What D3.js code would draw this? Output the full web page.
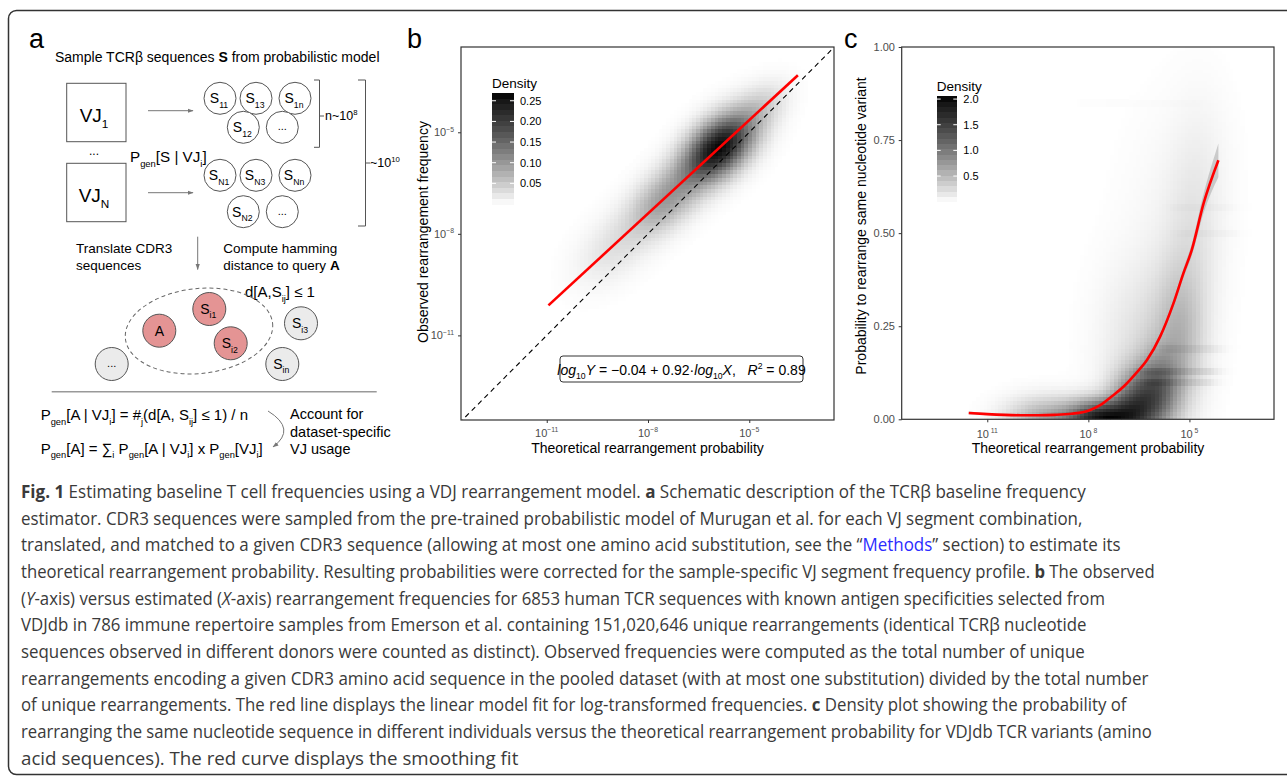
<!DOCTYPE html>
<html>
<head>
<meta charset="utf-8">
<script src="https://cdn.jsdelivr.net/npm/d3@7"></script>
<style>
  body { margin: 0; background: #fff; }
  svg { display: block; }
  text { font-family: "Liberation Sans", Arial, Helvetica, sans-serif; white-space: pre; }
  .cap text { font-family: "Open Sans", "Noto Sans", sans-serif; }
</style>
</head>
<body>
<svg id="fig" width="1287" height="776"></svg>
<script>
// ---- panel b data (log10 units) ----
const bTicks = [-11, -8, -5];
const bDomainX = [-13.54, -2.49];
const bDomainY = [-13.5, -2.48];
const bFitCoef = [-0.04, 0.92];          // intercept, slope
const bFitRange = [-10.95, -3.56];
// density blobs: [cx, cy, sdAlong, sdAcross, weight]
const bBlobs = [
  [-5.9, -5.45, 0.85, 0.5, 1.0],
  [-4.6, -4.2, 0.6, 0.4, 0.12],
  [-7.5, -7.0, 0.85, 0.5, 0.34],
  [-9.0, -8.4, 0.9, 0.55, 0.1]
];
const bLegendTicks = [0.05, 0.10, 0.15, 0.20, 0.25];
const bLegendMax = 0.27;

// ---- panel c data ----
const cTicks = [-11, -8, -5];
const cYTicks = [0, 0.25, 0.5, 0.75, 1];
const cSmoothX = [-11.55, -11, -10.5, -10, -9.5, -9, -8.5, -8, -7.65, -7.3, -6.95, -6.6, -6.26, -5.87, -5.48, -5.18, -4.93, -4.58, -4.14];
const cSmoothY = [0.017, 0.014, 0.012, 0.011, 0.011, 0.012, 0.015, 0.023, 0.038, 0.062, 0.088, 0.122, 0.159, 0.222, 0.31, 0.392, 0.455, 0.58, 0.696];
const cSmoothSe = [0.004, 0.003, 0.003, 0.003, 0.003, 0.003, 0.003, 0.003, 0.003, 0.004, 0.004, 0.005, 0.006, 0.007, 0.009, 0.012, 0.016, 0.026, 0.045];
// [cx, cy, sx, sy, weight]
const cBlobs = [
  [-7.6, 0.0, 0.7, 0.035, 1.0],
  [-9.3, 0.0, 0.8, 0.04, 0.35],
  [-6.6, 0.04, 0.5, 0.06, 0.6],
  [-5.9, 0.08, 0.45, 0.07, 0.45],
  [-5.3, 0.22, 0.5, 0.13, 0.22],
  [-4.9, 0.45, 0.55, 0.18, 0.08],
  [-6.3, 0.2, 0.9, 0.15, 0.12],
  [-5.5, 0.55, 1.0, 0.2, 0.03],
  [-4.6, 0.7, 0.6, 0.15, 0.03]
];
// horizontal streaks: [y, xFrom, xTo, weight]
const cStreaks = [
  [0.13, -6.2, -4.5, 0.12],
  [0.10, -6.0, -4.6, 0.1],
  [0.19, -5.5, -4.4, 0.07],
  [0.50, -5.0, -3.9, 0.03],
  [0.57, -5.2, -4.0, 0.025],
  [0.85, -8.0, -5.0, 0.012]
];
const cLegendTicks = [0.5, 1.0, 1.5, 2.0];
const cLegendMax = 2.06;

const captionLines = [
  "**Fig. 1** Estimating baseline T cell frequencies using a VDJ rearrangement model. **a** Schematic description of the TCRβ baseline frequency",
  "estimator. CDR3 sequences were sampled from the pre-trained probabilistic model of Murugan et al. for each VJ segment combination,",
  "translated, and matched to a given CDR3 sequence (allowing at most one amino acid substitution, see the “[Methods]” section) to estimate its",
  "theoretical rearrangement probability. Resulting probabilities were corrected for the sample-specific VJ segment frequency profile. **b** The observed",
  "(_Y_-axis) versus estimated (_X_-axis) rearrangement frequencies for 6853 human TCR sequences with known antigen specificities selected from",
  "VDJdb in 786 immune repertoire samples from Emerson et al. containing 151,020,646 unique rearrangements (identical TCRβ nucleotide",
  "sequences observed in different donors were counted as distinct). Observed frequencies were computed as the total number of unique",
  "rearrangements encoding a given CDR3 amino acid sequence in the pooled dataset (with at most one substitution) divided by the total number",
  "of unique rearrangements. The red line displays the linear model fit for log-transformed frequencies. **c** Density plot showing the probability of",
  "rearranging the same nucleotide sequence in different individuals versus the theoretical rearrangement probability for VDJdb TCR variants (amino",
  "acid sequences). The red curve displays the smoothing fit"
];
const captionEnds = [1086.7, 1083.3, 1121, 1155, 1106, 1087.3, 1085.7, 1149, 1127.3, 1152.3, 518.5];

const svg = d3.select("#fig");

// text with sub/superscripts: segs = [[str, flags]] flags: "_" sub, "^" sup, "B" bold, "I" italic, "L" link
function rich(g, x, y, segs, size, opts = {}) {
  const t = g.append("text").attr("x", x).attr("y", y).attr("font-size", size)
    .attr("text-anchor", opts.anchor || "start").attr("fill", opts.fill || "#000");
  let shift = 0;
  segs.forEach(s => {
    const str = typeof s === "string" ? s : s[0];
    const f = typeof s === "string" ? "" : (s[1] || "");
    let target = 0, fs = size;
    if (f.includes("_")) { target = size * 0.32; fs = size * 0.62; }
    if (f.includes("^")) { target = -size * 0.42; fs = size * 0.62; }
    const sp = t.append("tspan").attr("font-size", fs).text(str);
    if (target - shift !== 0) sp.attr("dy", target - shift);
    if (f.includes("B")) sp.attr("font-weight", "bold");
    if (f.includes("I")) sp.attr("font-style", "italic");
    if (f.includes("L")) sp.attr("fill", "#2b2bff");
    shift = target;
  });
  return t;
}

// outer frame
svg.append("rect").attr("x", 8.5).attr("y", 10.5).attr("width", 1300).attr("height", 764)
  .attr("rx", 8).attr("fill", "none").attr("stroke", "#333").attr("stroke-width", 1.5);

// panel letters
[["a", 29], ["b", 407], ["c", 844]].forEach(([l, x]) =>
  svg.append("text").attr("x", x).attr("y", 48).attr("font-size", 27).text(l));

// ================= panel a (schematic) =================
const A = svg.append("g");
const ink = "#555";
const defs = svg.append("defs");
defs.append("marker").attr("id", "arr").attr("viewBox", "0 0 10 10").attr("refX", 9).attr("refY", 5)
  .attr("markerWidth", 6).attr("markerHeight", 6).attr("orient", "auto")
  .append("path").attr("d", "M0,1.5 L10,5 L0,8.5 Z").attr("fill", "#777");

rich(A, 55, 61.5, ["Sample TCRβ sequences ", ["S", "B"], " from probabilistic model"], 14);

[[83.3, "1"], [163.3, "N"]].forEach(([y0, sub]) => {
  A.append("rect").attr("x", 66.7).attr("y", y0).attr("width", 59.3).attr("height", 58.4)
    .attr("fill", "none").attr("stroke", ink);
  rich(A, 94, y0 + 38.5, ["VJ", [sub, "_"]], 19, { anchor: "middle" });
});
A.append("text").attr("x", 94).attr("y", 155).attr("font-size", 12).attr("text-anchor", "middle").text("...");
rich(A, 130, 161.7, ["P", ["gen", "_"], "[S | VJ", ["i", "_"], "]"], 15.2);

[110.7, 192.7].forEach(y => A.append("line").attr("x1", 148).attr("x2", 193).attr("y1", y).attr("y2", y)
  .attr("stroke", "#777").attr("marker-end", "url(#arr)"));

const seqCircles = [
  [220, 98.3, "11"], [256, 98.3, "13"], [295, 98.3, "1n"], [243.3, 127.3, "12"], [282.3, 127.3, null],
  [220, 175.3, "N1"], [256, 175.3, "N3"], [295, 175.3, "Nn"], [243.3, 211.7, "N2"], [282.3, 211.7, null]
];
seqCircles.forEach(([x, y, sub]) => {
  A.append("circle").attr("cx", x).attr("cy", y).attr("r", 16).attr("fill", "#fff").attr("stroke", ink);
  if (sub) rich(A, x - 1, y + 5, ["S", [sub, "_"]], 14, { anchor: "middle" });
  else A.append("text").attr("x", x).attr("y", y + 3).attr("font-size", 11).attr("text-anchor", "middle").text("...");
});

A.append("path").attr("d", "M314,80 H319.5 V147.3 H314 M319.5,116 H324").attr("fill", "none").attr("stroke", ink);
rich(A, 325, 120, ["n~10", ["8", "^"]], 12.5);
A.append("path").attr("d", "M358,80 H365.5 V226 H358 M365.5,163 H370").attr("fill", "none").attr("stroke", ink);
rich(A, 370, 167, ["~10", ["10", "^"]], 12.5);

rich(A, 76, 253, ["Translate CDR3"], 13.5);
rich(A, 76, 270, ["sequences"], 13.5);
A.append("line").attr("x1", 197.7).attr("x2", 197.7).attr("y1", 236.7).attr("y2", 269.5)
  .attr("stroke", "#777").attr("marker-end", "url(#arr)");
rich(A, 223.3, 253, ["Compute hamming"], 13.5);
rich(A, 223.3, 270, ["distance to query ", ["A", "B"]], 13.5);
rich(A, 245, 297, ["d[A,S", ["ij", "_"], "] ≤ 1"], 15);

A.append("ellipse").attr("cx", 199).attr("cy", 331).attr("rx", 74).attr("ry", 42.5)
  .attr("transform", "rotate(-6 199 331)")
  .attr("fill", "none").attr("stroke", "#666").attr("stroke-dasharray", "4,3");

const hitCircles = [
  [159.3, 330.7, "#e49494", "A", null], [209.3, 309, "#e49494", "S", "i1"], [230.7, 343.3, "#e49494", "S", "i2"],
  [301, 323.3, "#ebebeb", "S", "i3"], [282.3, 364, "#ebebeb", "S", "in"], [111.7, 364, "#ebebeb", "...", null]
];
hitCircles.forEach(([x, y, fill, lab, sub]) => {
  A.append("circle").attr("cx", x).attr("cy", y).attr("r", 16.5).attr("fill", fill).attr("stroke", ink);
  if (sub) rich(A, x - 1, y + 5, [lab, [sub, "_"]], 14, { anchor: "middle" });
  else rich(A, x, y + (lab === "A" ? 5 : 3), [lab], lab === "A" ? 14 : 11, { anchor: "middle" });
});

A.append("line").attr("x1", 51.7).attr("x2", 376.7).attr("y1", 391.7).attr("y2", 391.7)
  .attr("stroke", "#999").attr("stroke-width", 1.5);

rich(A, 40.7, 420, ["P", ["gen", "_"], "[A | VJ", ["i", "_"], "] = #", ["j", "_"], "(d[A, S", ["ij", "_"], "] ≤ 1) / n"], 15);
rich(A, 40.7, 453.5, ["P", ["gen", "_"], "[A] = ∑", ["i", "_"], " P", ["gen", "_"], "[A | VJ", ["i", "_"], "] x P", ["gen", "_"], "[VJ", ["i", "_"], "]"], 15);
A.append("path").attr("d", "M268,411 Q297,429 273,447").attr("fill", "none").attr("stroke", "#777")
  .attr("marker-end", "url(#arr)");
rich(A, 290, 419, ["Account for"], 14.5);
rich(A, 290, 436.5, ["dataset-specific"], 14.5);
rich(A, 290, 454, ["VJ usage"], 14.5);

// ================= shared helpers =================
const fillB = d3.scaleLinear().domain([0, bLegendMax]).range(["#ffffff", "#000000"])
  .interpolate(d3.interpolateLab).clamp(true);
const fillC = d3.scaleLinear().domain([0, cLegendMax]).range(["#ffffff", "#000000"])
  .interpolate(d3.interpolateLab).clamp(true);

function drawPanelFrame(x0, y0, x1, y1) {
  svg.append("rect").attr("x", x0).attr("y", y0).attr("width", x1 - x0).attr("height", y1 - y0)
    .attr("fill", "none").attr("stroke", "#333").attr("stroke-width", 1.2);
}
function styleAxis(g) {
  g.select(".domain").remove();
  g.selectAll(".tick line").attr("stroke", "#333");
}
function legend(x, y, w, h, max, ticks, fill, fmt, titleY) {
  const s = d3.scaleLinear().domain([0, max]).range([y + h, y]);
  const nb = 20;
  const g = svg.append("g");
  d3.range(nb).forEach(i => {
    const v0 = max * i / nb, v1 = max * (i + 1) / nb;
    g.append("rect").attr("x", x).attr("width", w).attr("y", s(v1)).attr("height", s(v0) - s(v1) + 0.5)
      .attr("fill", fill((v0 + v1) / 2)).attr("shape-rendering", "crispEdges");
  });
  ticks.forEach(t => {
    g.append("line").attr("x1", x).attr("x2", x + 4).attr("y1", s(t)).attr("y2", s(t)).attr("stroke", "#fff");
    g.append("line").attr("x1", x + w - 4).attr("x2", x + w).attr("y1", s(t)).attr("y2", s(t)).attr("stroke", "#fff");
    g.append("text").attr("x", x + w + 6).attr("y", s(t) + 4).attr("font-size", 11).text(fmt(t));
  });
  g.append("text").attr("x", x).attr("y", titleY).attr("font-size", 13.5).text("Density");
}

// ================= panel b =================
const bX = d3.scaleLog().domain(bDomainX.map(e => 10 ** e)).range([461, 834]);
const bY = d3.scaleLog().domain(bDomainY.map(e => 10 ** e)).range([420, 47]);
svg.append("clipPath").attr("id", "clipB").append("rect").attr("x", 461).attr("y", 47).attr("width", 373).attr("height", 373);

const ua = [1, bFitCoef[1]], un = Math.hypot(ua[0], ua[1]);
const ux = ua[0] / un, uy = ua[1] / un;
function densB(lx, ly) {
  return d3.sum(bBlobs, ([cx, cy, sa, sp, w]) => {
    const dx = lx - cx, dy = ly - cy;
    const a = dx * ux + dy * uy, p = -dx * uy + dy * ux;
    return w * Math.exp(-0.5 * (a * a / (sa * sa) + p * p / (sp * sp)));
  });
}
const NB = 100;
const bStepX = (bDomainX[1] - bDomainX[0]) / NB, bStepY = (bDomainY[1] - bDomainY[0]) / NB;
const bCells = [];
for (let i = 0; i < NB; i++) for (let j = 0; j < NB; j++) {
  const lx = bDomainX[0] + i * bStepX, ly = bDomainY[0] + j * bStepY;
  bCells.push({ lx, ly, v: densB(lx + bStepX / 2, ly + bStepY / 2) });
}
const bMax = d3.max(bCells, d => d.v);
const gB = svg.append("g").attr("clip-path", "url(#clipB)");
gB.selectAll("rect").data(bCells.filter(d => d.v / bMax > 0.004)).join("rect")
  .attr("x", d => bX(10 ** d.lx)).attr("width", d => bX(10 ** (d.lx + bStepX)) - bX(10 ** d.lx) + 0.4)
  .attr("y", d => bY(10 ** (d.ly + bStepY))).attr("height", d => bY(10 ** d.ly) - bY(10 ** (d.ly + bStepY)) + 0.4)
  .attr("fill", d => fillB(d.v / bMax * 0.265)).attr("shape-rendering", "crispEdges");

gB.append("line").attr("x1", bX(10 ** -13.6)).attr("y1", bY(10 ** -13.6)).attr("x2", bX(10 ** -2.4)).attr("y2", bY(10 ** -2.4))
  .attr("stroke", "#000").attr("stroke-width", 1.1).attr("stroke-dasharray", "5,4");
gB.append("path").datum(bFitRange)
  .attr("d", d3.line().x(e => bX(10 ** e)).y(e => bY(10 ** (bFitCoef[0] + bFitCoef[1] * e))))
  .attr("stroke", "red").attr("stroke-width", 2.6).attr("fill", "none");

drawPanelFrame(461, 47, 834, 420);
svg.append("g").attr("transform", "translate(0,420)")
  .call(d3.axisBottom(bX).tickValues(bTicks.map(e => 10 ** e)).tickSize(3).tickFormat(() => "")).call(styleAxis);
svg.append("g").attr("transform", "translate(461,0)")
  .call(d3.axisLeft(bY).tickValues(bTicks.map(e => 10 ** e)).tickSize(3).tickFormat(() => "")).call(styleAxis);
bTicks.forEach(e => {
  rich(svg, bX(10 ** e), 437, ["10", ["−" + (-e), "^"]], 11, { anchor: "middle", fill: "#4d4d4d" });
  rich(svg, 454, bY(10 ** e) + 4, ["10", ["−" + (-e), "^"]], 11, { anchor: "end", fill: "#4d4d4d" });
});
svg.append("text").attr("x", 647.5).attr("y", 453).attr("font-size", 14).attr("text-anchor", "middle")
  .text("Theoretical rearrangement probability");
svg.append("text").attr("transform", "translate(428,232) rotate(-90)").attr("font-size", 14)
  .attr("text-anchor", "middle").text("Observed rearrangement frequency");

svg.append("rect").attr("x", 560).attr("y", 356).attr("width", 243).attr("height", 26).attr("rx", 3)
  .attr("fill", "#fff").attr("stroke", "#333");
rich(svg, 681.5, 374.5, [["log", "I"], ["10", "_"], ["Y", "I"], " = −0.04 + 0.92·", ["log", "I"], ["10", "_"], ["X", "I"], ",   ",
  ["R", "I"], ["2", "^"], " = 0.89"], 14, { anchor: "middle" });

legend(492, 92.5, 22, 111.5, bLegendMax, bLegendTicks, fillB, d3.format(".2f"), 88);

// ================= panel c =================
const cX = d3.scaleLog().domain(bDomainX.map(e => 10 ** e)).range([901.7, 1274]);
const cY = d3.scaleLinear().domain([0, 1]).range([419.3, 47]);
svg.append("clipPath").attr("id", "clipC").append("rect").attr("x", 901.7).attr("y", 47).attr("width", 372.3).attr("height", 372.3);

function densC(lx, y) {
  let v = d3.sum(cBlobs, ([cx, cy, sx, sy, w]) =>
    w * Math.exp(-0.5 * ((lx - cx) ** 2 / (sx * sx) + (y - cy) ** 2 / (sy * sy))));
  cStreaks.forEach(([sy0, x0, x1, w]) => {
    const ex = lx < x0 ? Math.exp(-0.5 * ((lx - x0) / 0.3) ** 2) : lx > x1 ? Math.exp(-0.5 * ((lx - x1) / 0.3) ** 2) : 1;
    v += w * ex * Math.exp(-0.5 * ((y - sy0) / 0.006) ** 2);
  });
  return v;
}
const NC = 100;
const cStepX = (bDomainX[1] - bDomainX[0]) / NC, cStepY = 1 / NC;
const cCells = [];
for (let i = 0; i < NC; i++) for (let j = 0; j < NC; j++) {
  const lx = bDomainX[0] + i * cStepX, y = j * cStepY;
  cCells.push({ lx, y, v: densC(lx + cStepX / 2, y + cStepY / 2) });
}
const cMax = d3.max(cCells, d => d.v);
const gC = svg.append("g").attr("clip-path", "url(#clipC)");
gC.selectAll("rect").data(cCells.filter(d => d.v / cMax > 0.004)).join("rect")
  .attr("x", d => cX(10 ** d.lx)).attr("width", d => cX(10 ** (d.lx + cStepX)) - cX(10 ** d.lx) + 0.4)
  .attr("y", d => cY(d.y + cStepY)).attr("height", d => cY(d.y) - cY(d.y + cStepY) + 0.4)
  .attr("fill", d => fillC(d.v / cMax * 2.05)).attr("shape-rendering", "crispEdges");

const smooth = cSmoothX.map((x, i) => ({ x, y: cSmoothY[i], se: cSmoothSe[i] }));
gC.append("path").datum(smooth)
  .attr("d", d3.area().curve(d3.curveMonotoneX).x(d => cX(10 ** d.x)).y0(d => cY(d.y - d.se)).y1(d => cY(d.y + d.se)))
  .attr("fill", "#999").attr("opacity", 0.45);
gC.append("path").datum(smooth)
  .attr("d", d3.line().curve(d3.curveMonotoneX).x(d => cX(10 ** d.x)).y(d => cY(d.y)))
  .attr("stroke", "red").attr("stroke-width", 2.6).attr("fill", "none");

drawPanelFrame(901.7, 47, 1274, 419.3);
svg.append("g").attr("transform", "translate(0,419.3)")
  .call(d3.axisBottom(cX).tickValues(cTicks.map(e => 10 ** e)).tickSize(3).tickFormat(() => "")).call(styleAxis);
svg.append("g").attr("transform", "translate(901.7,0)")
  .call(d3.axisLeft(cY).tickValues(cYTicks).tickSize(3).tickFormat(() => "")).call(styleAxis);
cTicks.forEach(e => {
  rich(svg, cX(10 ** e), 438, ["10", [" " + (-e), "^"]], 11, { anchor: "middle", fill: "#4d4d4d" });
});
cYTicks.forEach(v => {
  svg.append("text").attr("x", 895).attr("y", cY(v) + 4).attr("font-size", 11).attr("text-anchor", "end")
    .attr("fill", "#4d4d4d").text(d3.format(".2f")(v));
});
svg.append("text").attr("x", 1088).attr("y", 453).attr("font-size", 14).attr("text-anchor", "middle")
  .text("Theoretical rearrangement probability");
svg.append("text").attr("transform", "translate(866,226) rotate(-90)").attr("font-size", 14)
  .attr("text-anchor", "middle").text("Probability to rearrange same nucleotide variant");

legend(936.7, 96, 20.6, 105.7, cLegendMax, cLegendTicks, fillC, d3.format(".1f"), 91);

// ================= caption =================
const cap = svg.append("g").attr("class", "cap");
captionLines.forEach((line, i) => {
  const segs = line.split(/(\*\*[^*]+\*\*|_[^_]+_|\[[^\]]+\])/).filter(s => s.length).map(s => {
    if (s.startsWith("**")) return [s.slice(2, -2), "B"];
    if (s.startsWith("_")) return [s.slice(1, -1), "I"];
    if (s.startsWith("[")) return [s.slice(1, -1), "L"];
    return [s, ""];
  });
  const t = rich(cap, 0, 0, segs, 18.5, { fill: "#3a3a3a" });
  const w = t.node().getComputedTextLength();
  const k = (captionEnds[i] - 21) / w;
  t.attr("transform", `translate(21,${498 + i * 26.65}) scale(${k},1)`);
});
</script>
</body>
</html>
